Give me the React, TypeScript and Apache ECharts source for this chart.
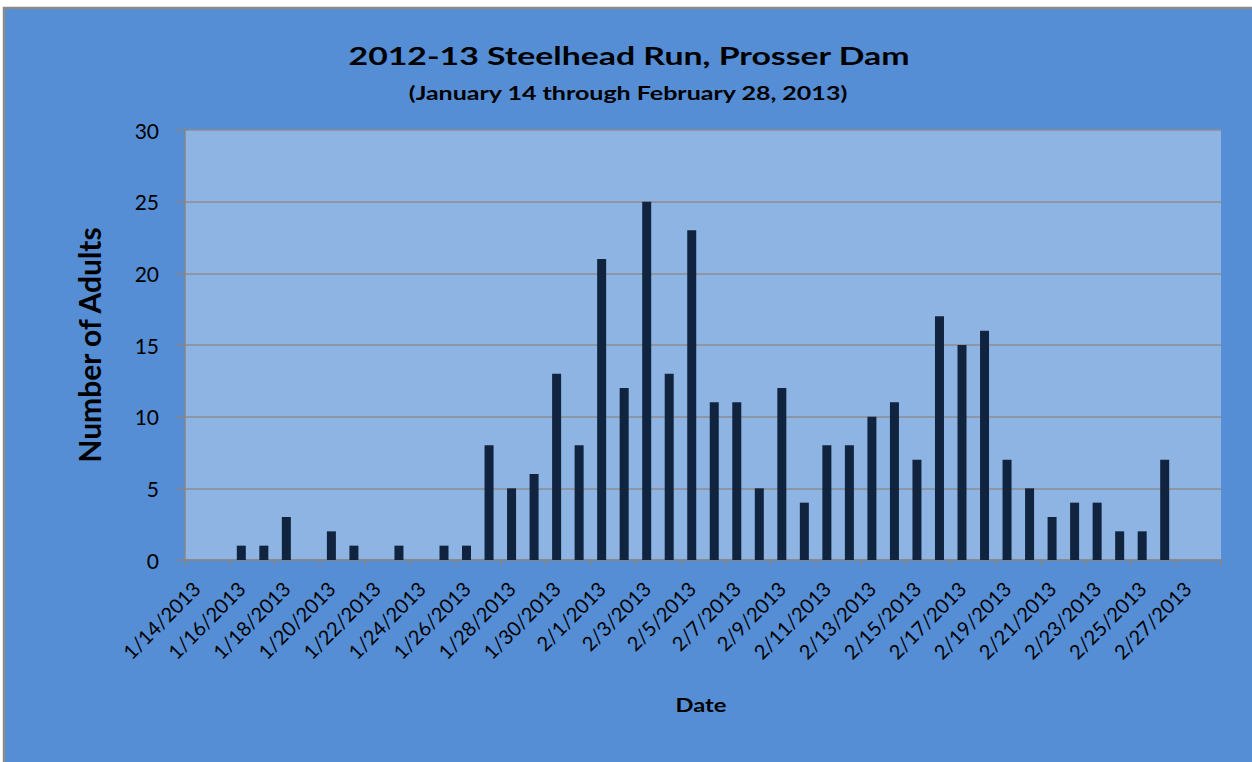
import React, { useEffect, useRef } from "react";
import * as echarts from "echarts";

const categories: string[] = [
  "1/14/2013", "1/15/2013", "1/16/2013", "1/17/2013", "1/18/2013", "1/19/2013",
  "1/20/2013", "1/21/2013", "1/22/2013", "1/23/2013", "1/24/2013", "1/25/2013",
  "1/26/2013", "1/27/2013", "1/28/2013", "1/29/2013", "1/30/2013", "1/31/2013",
  "2/1/2013", "2/2/2013", "2/3/2013", "2/4/2013", "2/5/2013", "2/6/2013",
  "2/7/2013", "2/8/2013", "2/9/2013", "2/10/2013", "2/11/2013", "2/12/2013",
  "2/13/2013", "2/14/2013", "2/15/2013", "2/16/2013", "2/17/2013", "2/18/2013",
  "2/19/2013", "2/20/2013", "2/21/2013", "2/22/2013", "2/23/2013", "2/24/2013",
  "2/25/2013", "2/26/2013", "2/27/2013", "2/28/2013",
];

const adults: number[] = [
  0, 0, 1, 1, 3, 0,
  2, 1, 0, 1, 0, 1,
  1, 8, 5, 6, 13, 8,
  21, 12, 25, 13, 23, 11,
  11, 5, 12, 4, 8, 8,
  10, 11, 7, 17, 15, 16,
  7, 5, 3, 4, 4, 2,
  2, 7, 0, 0,
];

const yTicks = { min: 0, max: 30, interval: 5 };

const titleText = "2012-13 Steelhead Run, Prosser Dam";
const subtitleText = "(January 14 through February 28, 2013)";
const yName = "Number of Adults";
const xName = "Date";

const FONT = "Lato";

export default function App() {
  const ref = useRef<HTMLDivElement>(null);
  useEffect(() => {
    if (!ref.current) return;
    const chart = echarts.init(ref.current, undefined, { renderer: "svg" });
    chart.setOption({
      animation: false,
      backgroundColor: "#FFFFFF",
      textStyle: { fontFamily: FONT },
      graphic: [
        {
          type: "rect",
          z: -10,
          silent: true,
          shape: { x: 4, y: 8, width: 1270, height: 780 },
          style: { fill: "#558ED5", stroke: "#8A8A8A", lineWidth: 2.5 },
        },
        {
          type: "text",
          x: 629,
          y: 55,
          scaleX: 1.38,
          style: {
            text: titleText,
            fontFamily: FONT,
            fontWeight: "bold",
            fontSize: 24.5,
            fill: "#000000",
            textAlign: "center",
            textVerticalAlign: "middle",
          },
        },
        {
          type: "text",
          x: 628,
          y: 93,
          scaleX: 1.39,
          style: {
            text: subtitleText,
            fontFamily: FONT,
            fontWeight: "bold",
            fontSize: 18,
            fill: "#000000",
            textAlign: "center",
            textVerticalAlign: "middle",
          },
        },
        {
          type: "text",
          x: 701,
          y: 705,
          scaleX: 1.25,
          style: {
            text: xName,
            fontFamily: FONT,
            fontWeight: "bold",
            fontSize: 19,
            fill: "#000000",
            textAlign: "center",
            textVerticalAlign: "middle",
          },
        },
      ],
      grid: {
        left: 185,
        right: 31,
        top: 130,
        bottom: 202,
        show: true,
        backgroundColor: "#8EB4E3",
        borderWidth: 0,
      },
      xAxis: {
        type: "category",
        data: categories,
        boundaryGap: true,
        axisLine: { show: true, lineStyle: { color: "#868686", width: 1.5 } },
        axisTick: { show: true, interval: 1, length: 6, lineStyle: { color: "#868686", width: 1.5 } },
        axisLabel: {
          interval: 1,
          rotate: 45,
          margin: 25,
          fontFamily: FONT,
          fontSize: 20,
          color: "#000",
        },
        splitLine: { show: false },
      },
      yAxis: {
        type: "value",
        min: yTicks.min,
        max: yTicks.max,
        interval: yTicks.interval,
        name: yName,
        nameLocation: "middle",
        nameGap: 81,
        nameRotate: 90,
        nameTextStyle: { fontFamily: FONT, fontWeight: "bold", fontSize: 30, color: "#000" },
        axisLine: { show: true, lineStyle: { color: "#868686", width: 1.5 } },
        axisTick: { show: true, inside: false, length: 9, lineStyle: { color: "#868686", width: 1.5 } },
        axisLabel: { margin: 26, fontFamily: FONT, fontSize: 21, color: "#000" },
        splitLine: { show: true, lineStyle: { color: "#8C8C8C", width: 1.5 } },
      },
      series: [
        {
          type: "bar",
          data: adults,
          barWidth: 9,
          itemStyle: { color: "#11243F" },
        },
      ],
    });
    return () => chart.dispose();
  }, []);
  return (
    <div
      ref={ref}
      style={{ position: "fixed", left: 0, top: 0, width: 1252, height: 762 }}
    />
  );
}
